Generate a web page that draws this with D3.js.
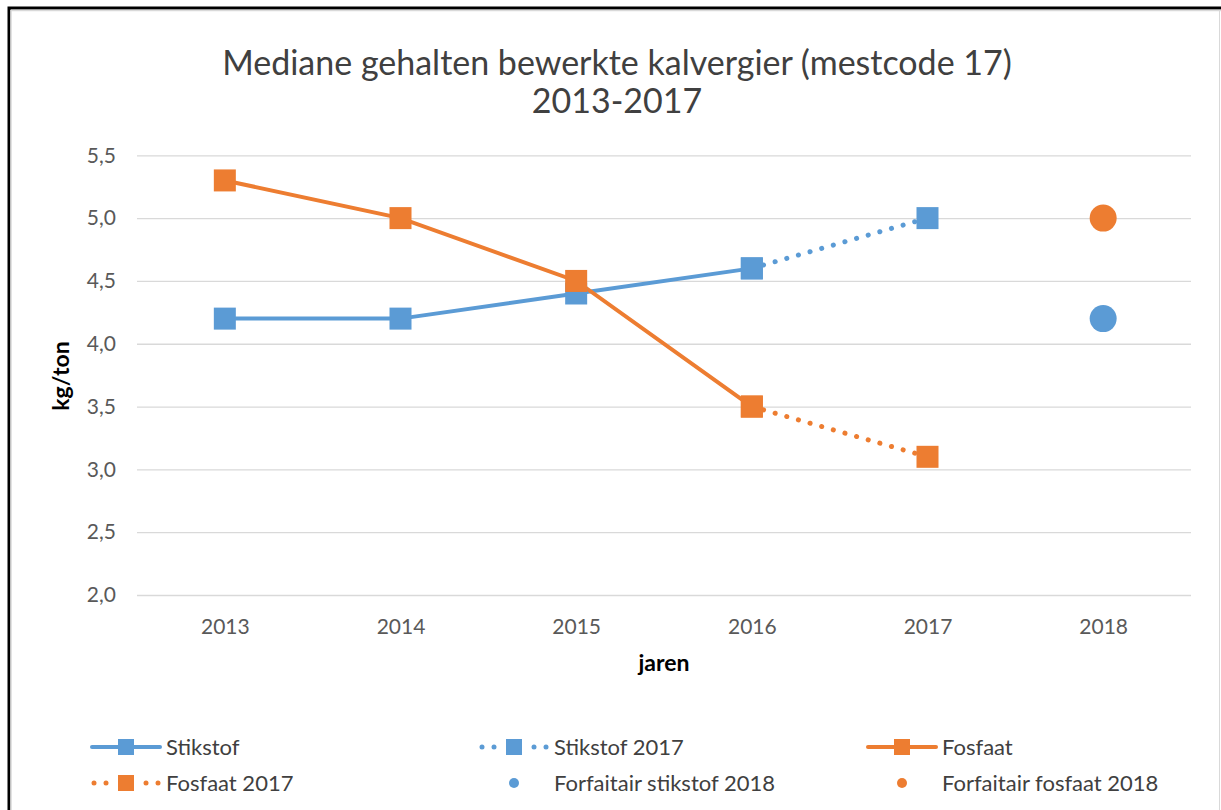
<!DOCTYPE html>
<html>
<head>
<meta charset="utf-8">
<script src="https://cdn.jsdelivr.net/npm/d3@7"></script>
<style>
html,body{margin:0;padding:0;background:#fff;}
svg{display:block;font-family:Lato,"Open Sans",sans-serif;}
</style>
</head>
<body>
<svg id="chart" width="1221" height="810"></svg>
<script>
const years = ["2013","2014","2015","2016","2017","2018"];
const yTicks = [2.0,2.5,3.0,3.5,4.0,4.5,5.0,5.5];
const stikstof = [{x:"2013",y:4.2},{x:"2014",y:4.2},{x:"2015",y:4.4},{x:"2016",y:4.6}];
const stikstof2017 = [{x:"2016",y:4.6},{x:"2017",y:5.0}];
const fosfaat = [{x:"2013",y:5.3},{x:"2014",y:5.0},{x:"2015",y:4.5},{x:"2016",y:3.5}];
const fosfaat2017 = [{x:"2016",y:3.5},{x:"2017",y:3.1}];
const forfStikstof = [{x:"2018",y:4.2}];
const forfFosfaat = [{x:"2018",y:5.0}];
const titleLines = ["Mediane gehalten bewerkte kalvergier (mestcode 17)","2013-2017"];

const BLUE="#5b9bd5", ORANGE="#ed7d31";
const svg = d3.select("#chart");

// frame
svg.append("rect").attr("x",9).attr("y",8).attr("width",1230).attr("height",820)
  .attr("fill","none").attr("stroke","#000").attr("stroke-width",3);
svg.append("line").attr("x1",11).attr("x2",1221).attr("y1",10.5).attr("y2",10.5).attr("stroke","#d9d9d9").attr("stroke-width",1.5);
svg.append("line").attr("x1",11).attr("x2",11).attr("y1",10).attr("y2",810).attr("stroke","#d9d9d9").attr("stroke-width",1.5);
svg.append("line").attr("x1",1219.5).attr("x2",1219.5).attr("y1",10).attr("y2",810).attr("stroke","#d9d9d9").attr("stroke-width",1);

const x = d3.scalePoint().domain(years).range([137,1191]).padding(0.5);
const y = d3.scaleLinear().domain([2.0,5.5]).range([595,155.3]);

// title
svg.append("g").selectAll("text").data(titleLines).join("text")
  .attr("x",617).attr("y",(d,i)=>75+i*38).attr("text-anchor","middle")
  .attr("font-size",34).attr("fill","#404040").text(d=>d);

// grid
const yAxis = d3.axisLeft(y).tickValues(yTicks).tickSize(-(1191-137))
  .tickFormat(d=>d3.format(".1f")(d).replace(".",","));
const gy = svg.append("g").attr("transform","translate(137,0)").call(yAxis);
gy.select(".domain").remove();
gy.selectAll(".tick line").attr("stroke","#d9d9d9").attr("stroke-width",1.3);
gy.selectAll(".tick text").attr("x",-21).attr("font-size",21).attr("fill","#595959").attr("font-family","Lato,sans-serif");

const xAxis = d3.axisBottom(x).tickSize(0);
const gx = svg.append("g").attr("transform","translate(0,595)").call(xAxis);
gx.select(".domain").remove();
gx.selectAll(".tick text").attr("dy",0).attr("y",39).attr("font-size",21).attr("fill","#595959").attr("font-family","Lato,sans-serif");

// axis titles
svg.append("text").attr("transform","translate(69,376) rotate(-90)").attr("text-anchor","middle")
  .attr("font-size",23).attr("font-weight","bold").attr("fill","#000").text("kg/ton");
svg.append("text").attr("x",664).attr("y",671).attr("text-anchor","middle")
  .attr("font-size",23).attr("font-weight","bold").attr("fill","#000").text("jaren");

const line = d3.line().x(d=>x(d.x)).y(d=>y(d.y));
function drawLine(data,color,dotted){
  svg.append("path").datum(data).attr("d",line).attr("fill","none").attr("stroke",color)
    .attr("stroke-width",dotted?5:4).attr("stroke-linecap","round")
    .attr("stroke-dasharray",dotted?"0.1 12":null);
}
function drawSquares(data,color){
  svg.append("g").selectAll("rect").data(data).join("rect")
    .attr("x",d=>x(d.x)-11).attr("y",d=>y(d.y)-11).attr("width",22).attr("height",22).attr("fill",color);
}
function drawCircles(data,color){
  svg.append("g").selectAll("circle").data(data).join("circle")
    .attr("cx",d=>x(d.x)).attr("cy",d=>y(d.y)).attr("r",13.5).attr("fill",color);
}
drawLine(stikstof2017,BLUE,true);
drawLine(fosfaat2017,ORANGE,true);
drawLine(stikstof,BLUE,false);
drawLine(fosfaat,ORANGE,false);
drawSquares(stikstof2017,BLUE);
drawSquares(fosfaat2017,ORANGE);
drawSquares(stikstof,BLUE);
drawSquares(fosfaat,ORANGE);
drawCircles(forfStikstof,BLUE);
drawCircles(forfFosfaat,ORANGE);

// legend
const legend = [
  {name:"Stikstof",color:BLUE,type:"solid",col:0,row:0},
  {name:"Stikstof 2017",color:BLUE,type:"dotted",col:1,row:0},
  {name:"Fosfaat",color:ORANGE,type:"solid",col:2,row:0},
  {name:"Fosfaat 2017",color:ORANGE,type:"dotted",col:0,row:1},
  {name:"Forfaitair stikstof 2018",color:BLUE,type:"circle",col:1,row:1},
  {name:"Forfaitair fosfaat 2018",color:ORANGE,type:"circle",col:2,row:1}
];
const colX=[92,480,868], rowY=[747,783];
const lg = svg.append("g").selectAll("g").data(legend).join("g")
  .attr("transform",d=>`translate(${colX[d.col]},${rowY[d.row]})`);
lg.each(function(d){
  const g=d3.select(this);
  if(d.type==="solid"){
    g.append("line").attr("x1",0).attr("x2",68).attr("y1",0).attr("y2",0).attr("stroke",d.color).attr("stroke-width",4).attr("stroke-linecap","round");
    g.append("rect").attr("x",26).attr("y",-8).attr("width",16).attr("height",16).attr("fill",d.color);
  } else if(d.type==="dotted"){
    [2,14,54,66].forEach(cx=>g.append("circle").attr("cx",cx).attr("cy",0).attr("r",2.5).attr("fill",d.color));
    g.append("rect").attr("x",26).attr("y",-8).attr("width",16).attr("height",16).attr("fill",d.color);
  } else {
    g.append("circle").attr("cx",34).attr("cy",0).attr("r",5).attr("fill",d.color);
  }
  g.append("text").attr("x",74).attr("y",0).attr("dy","0.35em").attr("font-size",22).attr("fill","#404040").text(d.name);
});
</script>
</body>
</html>
